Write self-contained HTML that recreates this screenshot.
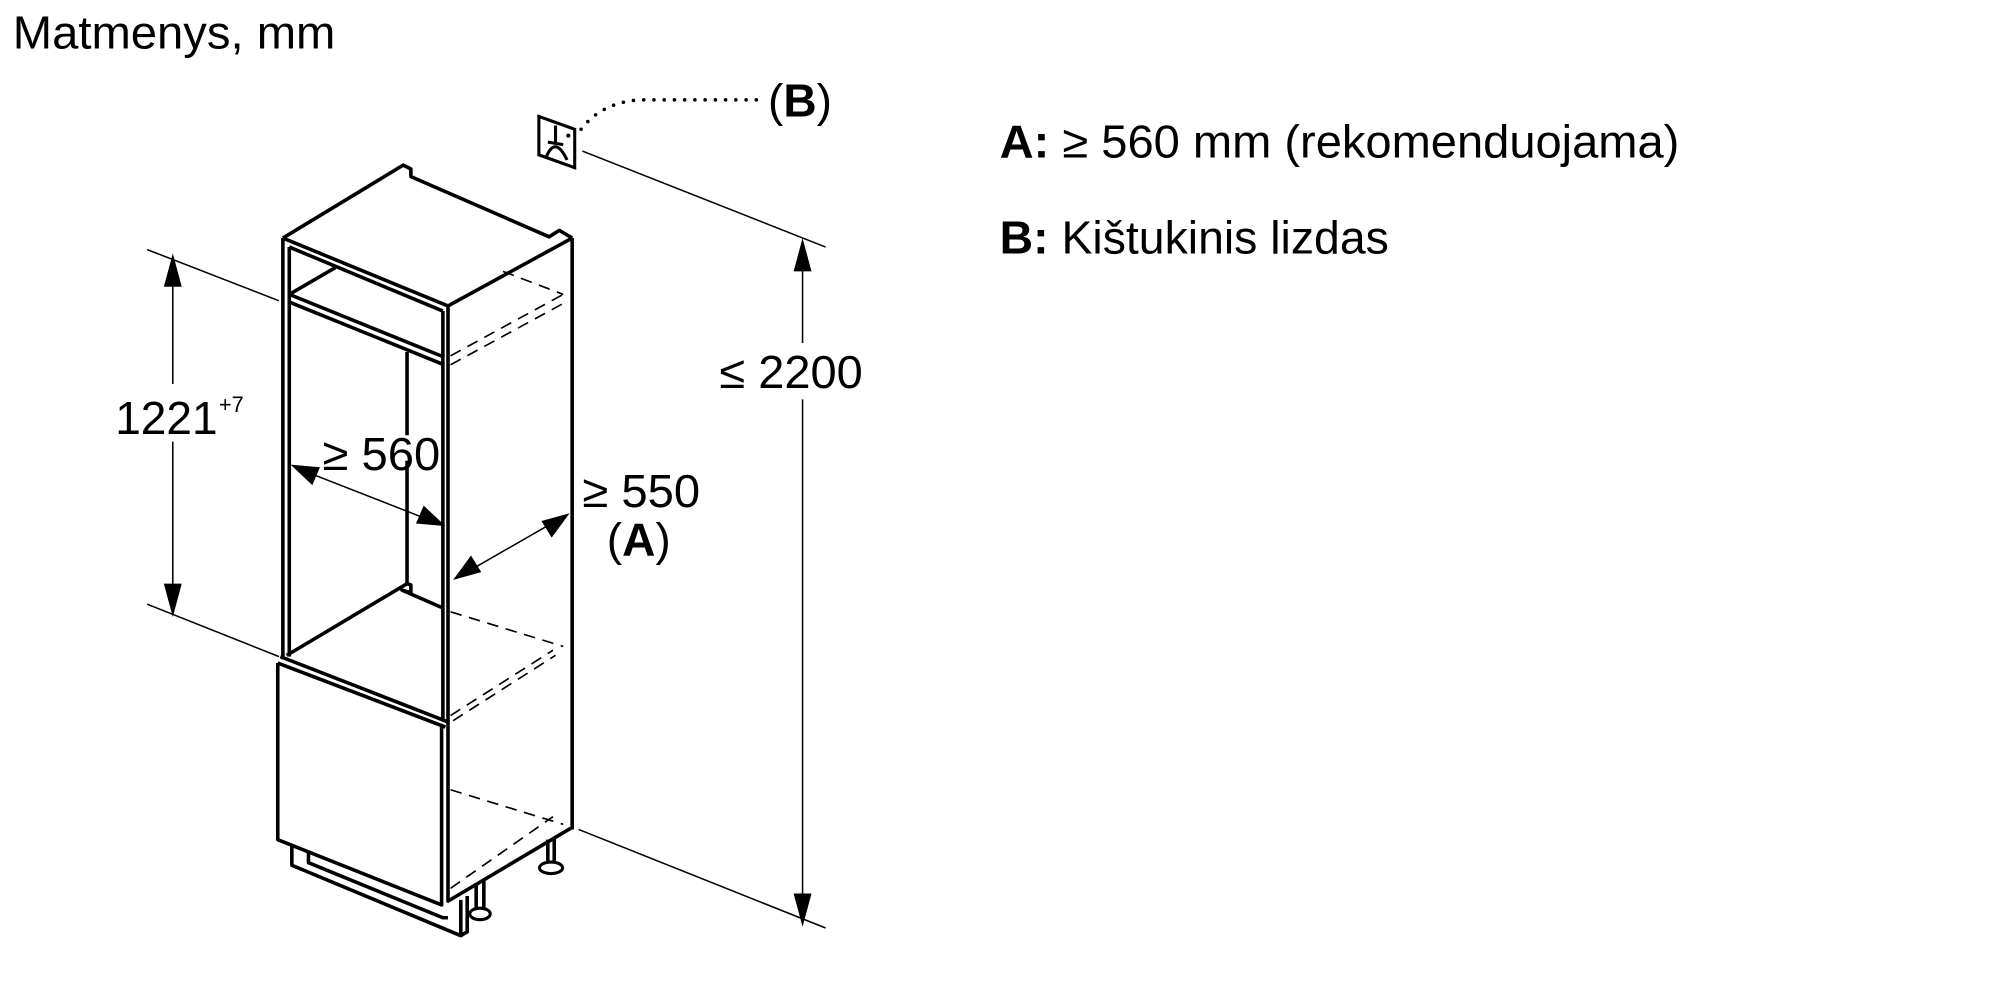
<!DOCTYPE html>
<html><head><meta charset="utf-8"><style>
html,body{margin:0;padding:0;background:#fff;}
svg{display:block;}
text{font-family:"Liberation Sans",Arial,sans-serif;fill:#000;}
</style></head><body>
<svg width="2000" height="1000" viewBox="0 0 1562.5 781.25" xmlns="http://www.w3.org/2000/svg">
<text x="10" y="38" font-size="36" textLength="252" lengthAdjust="spacingAndGlyphs">Matmenys, mm</text>
<text x="781" y="123" font-size="36" textLength="531" lengthAdjust="spacingAndGlyphs"><tspan font-weight="bold">A:</tspan> ≥ 560 mm (rekomenduojama)</text>
<text x="781" y="198" font-size="36" textLength="304" lengthAdjust="spacingAndGlyphs"><tspan font-weight="bold">B:</tspan> Kištukinis lizdas</text>

<g stroke="#000" fill="none" stroke-width="1.2">
<line x1="115" y1="195" x2="218" y2="235"/>
<line x1="115" y1="472" x2="218" y2="513"/>
<line x1="455" y1="118" x2="645" y2="193"/>
<line x1="452" y1="648" x2="645" y2="725"/>
<line x1="135" y1="205" x2="135" y2="300"/>
<line x1="135" y1="345" x2="135" y2="475"/>
<line x1="627" y1="192" x2="627" y2="268"/>
<line x1="627" y1="312" x2="627" y2="720"/>
<line x1="230" y1="365" x2="345" y2="410"/>
<line x1="356" y1="452" x2="443" y2="402"/>
</g>
<g fill="#000">
<polygon points="135,198 128,224 142,224"/>
<polygon points="135,482 128,456 142,456"/>
<polygon points="627,186 620,212 634,212"/>
<polygon points="627,724 620,698 634,698"/>
<polygon points="227,363 250,365 244,379"/>
<polygon points="348,411 325,409 331,395"/>
<polygon points="354,453 368,434 376,447"/>
<polygon points="445,401 431,420 423,407"/>
</g>
<text x="90" y="339" font-size="36" textLength="80" lengthAdjust="spacingAndGlyphs">1221</text>
<text x="171" y="322" font-size="17">+7</text>
<text x="252" y="367" font-size="36" textLength="92" lengthAdjust="spacingAndGlyphs">≥ 560</text>
<text x="455" y="396" font-size="36" textLength="92" lengthAdjust="spacingAndGlyphs">≥ 550</text>
<text x="474" y="434" font-size="36">(<tspan font-weight="bold">A</tspan>)</text>
<text x="562" y="303" font-size="36" textLength="112" lengthAdjust="spacingAndGlyphs">≤ 2200</text>
<text x="600" y="91" font-size="36">(<tspan font-weight="bold">B</tspan>)</text>

<g stroke="#000" fill="none" stroke-width="2.4">
<polygon points="421,91 449,101 449,131 421,121"/>
<path d="M434,98 V112 M428,111 L440,113 M427,122 Q434,106 443,125"/>
</g>
<circle cx="444" cy="106" r="1.6" fill="#000"/>
<path d="M454,101 Q470,80 500,78 L596,78" stroke="#000" stroke-width="2.8" fill="none" stroke-dasharray="0 8" stroke-linecap="round"/>

<g stroke="#000" fill="none" stroke-width="2.8" stroke-linejoin="round">
<path d="M221,186 L315,129 L321,132 L321,138 L429,185 L437,180 L447,186"/>
<path d="M221,186 L350,239 L447,186"/>
<path d="M226,193 L346,243"/>
<path d="M226,230 L347,279 M226,236 L347,285 M226,230 L262,209"/>
<path d="M221,186 V515 M226,193 V513"/>
<path d="M350,239 V567 M346,243 V562"/>
<path d="M447,186 V648"/>
<path d="M318,275 V340 M318,360 V456"/>
<path d="M224,512 L318,456 L321,457 L321,463 L314,461 L346,475"/>
<path d="M219,513 L350,564 M217,518 L348,568"/>
<path d="M217,518 V656 L345,707 V568"/>
<path d="M350,567 V704 L446,647"/>
<path d="M228,661 V676 L360,731 L365,728 V700 M360,731 V703"/>
<path d="M241,666 V674 L346,717 H350"/>
<path d="M372,690 V711 M378,688 V711 M428,656 V676 M433,654 V676"/>
</g>
<g stroke="#000" fill="#fff" stroke-width="2.4">
<ellipse cx="375" cy="714" rx="8" ry="4.5"/>
<ellipse cx="430.5" cy="678" rx="9" ry="4.5"/>
</g>
<g stroke="#000" fill="none" stroke-width="1.3" stroke-dasharray="9 6">
<path d="M393,212 L440,230"/>
<path d="M352,278 L440,230 M352,285 L442,236"/>
<path d="M352,478 L440,505"/>
<path d="M352,559 L432,508 M354,563 L434,512"/>
<path d="M352,617 L440,644"/>
<path d="M352,694 L432,638"/>
</g>
</svg>
</body></html>
